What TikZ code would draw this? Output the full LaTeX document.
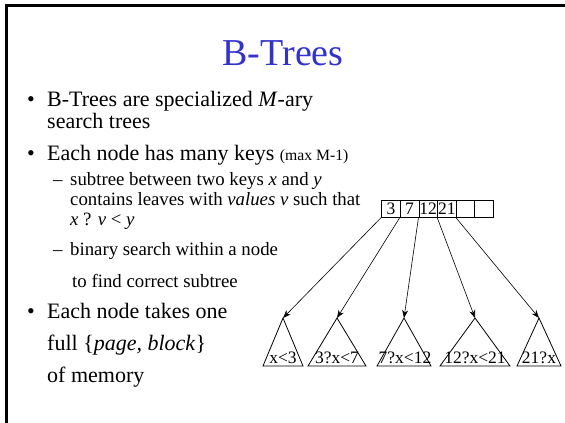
\documentclass[tikz,border=0pt]{standalone}
\usepackage{fontspec}
\setmainfont{Liberation Serif}
\usetikzlibrary{arrows.meta}
\definecolor{titleblue}{RGB}{51,51,204}
\tikzset{
  txt/.style={anchor=base west, inner sep=0pt, font=\fontsize{22}{26}\selectfont},
  subtxt/.style={anchor=base west, inner sep=0pt, font=\fontsize{18.8}{22}\selectfont},
  keycell/.style={draw, line width=0.8pt, minimum width=18.6pt, minimum height=17pt, inner sep=0pt,
                  font=\fontsize{17.5}{18}\selectfont},
  subtri/.style={draw, line width=0.8pt, line join=miter},
  trilabel/.style={anchor=base, inner sep=0pt, font=\fontsize{17.5}{18}\selectfont},
  ptr/.style={draw, line width=0.6pt, -{Stealth[length=8pt,width=6pt]}},
}
\begin{document}
\begin{tikzpicture}[x=1pt,y=-1pt]
\useasboundingbox (0,0) rectangle (565,423);
\fill[white] (0,0) rectangle (565,423);
% slide frame
\draw[line width=2.6pt] (6.5,423) -- (6.5,5.5) -- (565,5.5);

% title
\node[inner sep=0pt, anchor=base, text=titleblue, font=\fontsize{38}{44}\selectfont] (title) at (283,65) {B-Trees};

% bullet list
\node[txt] (b1) at (27,106) {\textbullet};
\node[txt] (l1) at (47,106) {B-Trees are specialized \textit{M}-ary};
\node[txt] (l2) at (47,128) {search trees};
\node[txt] (b2) at (27,160) {\textbullet};
\node[txt] (l3) at (47,160) {Each node has many keys {\fontsize{15.7}{19}\selectfont(max M-1)}};
\node[subtxt] (d1) at (53,185) {--};
\node[subtxt] (s1) at (70,185) {subtree between two keys \textit{x} and \textit{y}};
\node[subtxt] (s2) at (70,205) {contains leaves with \textit{values v} such that};
\node[subtxt] (s3) at (70,225) {\textit{x} ? \textit{v} {<} \textit{y}};
\node[subtxt] (d2) at (53,255) {--};
\node[subtxt] (s4) at (70,255) {binary search within a node};
\node[subtxt] (s5) at (72,287) {to find correct subtree};
\node[txt] (b3) at (27,318) {\textbullet};
\node[txt] (l4) at (47,318) {Each node takes one};
\node[txt] (l5) at (47,350) {full \{\textit{page, block}\}};
\node[txt] (l6) at (47,382) {of memory};

% B-tree node with its keys
\node[keycell] (c1) at (391,208.5) {3};
\node[keycell] (c2) at (409.6,208.5) {7};
\node[keycell] (c3) at (428.2,208.5) {12};
\node[keycell] (c4) at (446.8,208.5) {21};
\node[keycell] (c5) at (465.4,208.5) {};
\node[keycell] (c6) at (484,208.5) {};

% subtrees
\coordinate (t1) at (283,318);
\coordinate (t2) at (337,318);
\coordinate (t3) at (404,318);
\coordinate (t4) at (475,318);
\coordinate (t5) at (539,318);
\draw[subtri] (t1) -- ++(-20,48) -- ++(40,0) -- cycle;
\draw[subtri] (t2) -- ++(-29,48) -- ++(58,0) -- cycle;
\draw[subtri] (t3) -- ++(-27,48) -- ++(54,0) -- cycle;
\draw[subtri] (t4) -- ++(-35,48) -- ++(70,0) -- cycle;
\draw[subtri] (t5) -- ++(-22,48) -- ++(44,0) -- cycle;
\node[trilabel] (k1) at (283,363) {x{<}3};
\node[trilabel] (k2) at (337,363) {3?x{<}7};
\node[trilabel] (k3) at (405,363) {7?x{<}12};
\node[trilabel] (k4) at (475,363) {12?x{<}21};
\node[trilabel] (k5) at (539,363) {21?x};

% child pointers
\draw[ptr] (c1.south west) -- (t1);
\draw[ptr] (c2.south west) -- (t2);
\draw[ptr] (c3.south west) -- (t3);
\draw[ptr] (c4.south west) -- (t4);
\draw[ptr] (c5.south west) -- (t5);
\end{tikzpicture}
\end{document}
